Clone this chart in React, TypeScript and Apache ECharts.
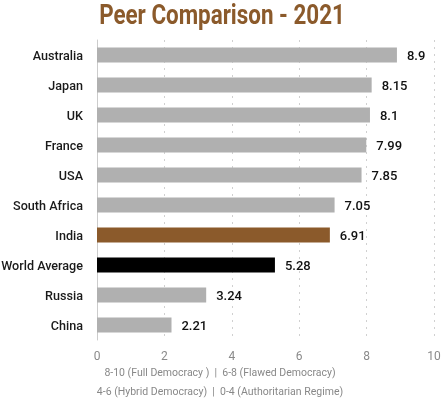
import React, { useEffect, useRef } from "react";
import * as echarts from "echarts";

const categories = ["Australia", "Japan", "UK", "France", "USA", "South Africa", "India", "World Average", "Russia", "China"];
const values = [8.9, 8.15, 8.1, 7.99, 7.85, 7.05, 6.91, 5.28, 3.24, 2.21];
const barColors = ["#b0b0b0", "#b0b0b0", "#b0b0b0", "#b0b0b0", "#b0b0b0", "#b0b0b0", "#8b5a2b", "#000000", "#b0b0b0", "#b0b0b0"];
const titleText = "Peer Comparison - 2021";
const noteLines = ["8-10 (Full Democracy )  |  6-8 (Flawed Democracy)", "4-6 (Hybrid Democracy)  |  0-4 (Authoritarian Regime)"];

export default function App() {
  const ref = useRef<HTMLDivElement>(null);
  useEffect(() => {
    if (!ref.current) return;
    const chart = echarts.init(ref.current, null, { renderer: "svg" });
    const cats = [...categories].reverse();
    const vals = [...values].reverse();
    const cols = [...barColors].reverse();
    chart.setOption({
      animation: false,
      grid: { left: 97, right: 12, top: 40, bottom: 58, containLabel: false, outerBoundsMode: "none" },
      xAxis: {
        type: "value",
        min: 0,
        max: 10,
        interval: 2,
        axisLine: { show: false },
        axisTick: { show: false },
        axisLabel: { color: "#8a8a8a", fontSize: 12, fontFamily: "Roboto, sans-serif", margin: 10 },
        splitLine: { show: true, lineStyle: { color: "#d0d0d0", type: [2, 5] } },
      },
      yAxis: {
        type: "category",
        data: cats,
        axisLine: { show: true, lineStyle: { color: "#cccccc" } },
        axisTick: { show: false },
        axisLabel: { color: "#1a1a1a", fontSize: 12.6, fontFamily: "Roboto, sans-serif", fontWeight: 500, margin: 14 },
      },
      series: [
        {
          type: "bar",
          data: vals.map((v, i) => ({ value: v, itemStyle: { color: cols[i] } })),
          barWidth: 15,
          label: {
            show: true,
            position: "right",
            distance: 10,
            color: "#111",
            fontSize: 13,
            fontWeight: 500,
            fontFamily: "Roboto, sans-serif",
          },
        },
      ],
      graphic: [
        {
          type: "text",
          x: 222,
          y: 1,
          scaleX: 0.83,
          originX: 0,
          originY: 0,
          style: {
            text: titleText,
            fill: "#8b5a2b",
            fontSize: 27,
            fontWeight: "bold",
            fontFamily: "Roboto, sans-serif",
            textAlign: "center",
            textVerticalAlign: "top",
          },
        },
        ...noteLines.map((t, i) => ({
          type: "text",
          x: 220,
          y: 367 + i * 19,
          style: { text: t, fill: "#888", fontSize: 10.5, fontFamily: "Roboto, sans-serif", textAlign: "center", textVerticalAlign: "top" },
        })),
      ],
    });
    return () => chart.dispose();
  }, []);
  return <div ref={ref} style={{ width: 446, height: 398, position: "fixed", left: 0, top: 0 }} />;
}
